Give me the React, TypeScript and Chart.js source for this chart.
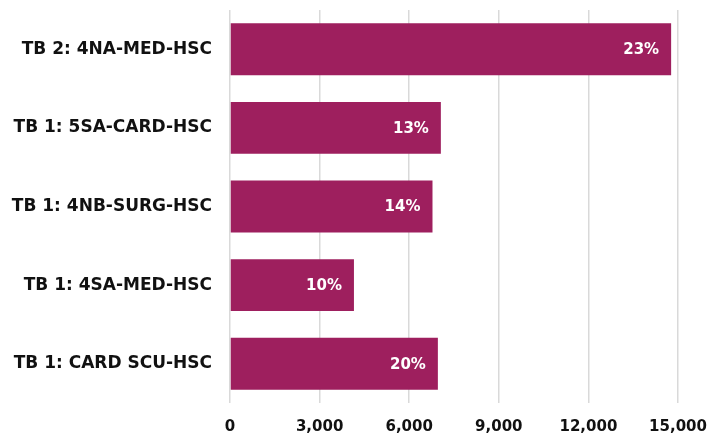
import React, { useEffect, useRef } from "react";
import { Chart, registerables } from "chart.js";

Chart.register(...registerables);

const categories = [
  "TB 2: 4NA-MED-HSC",
  "TB 1: 5SA-CARD-HSC",
  "TB 1: 4NB-SURG-HSC",
  "TB 1: 4SA-MED-HSC",
  "TB 1: CARD SCU-HSC",
];
const values = [14770, 7060, 6780, 4150, 6960];
const percentLabels = ["23%", "13%", "14%", "10%", "20%"];
const xTicks = [0, 3000, 6000, 9000, 12000, 15000];

const FONT = "'DejaVu Sans', sans-serif";

const barLabelPlugin = {
  id: "barLabels",
  afterDatasetsDraw(chart: any) {
    const ctx = chart.ctx;
    const meta = chart.getDatasetMeta(0);
    ctx.save();
    ctx.fillStyle = "#ffffff";
    ctx.font = `bold 15px ${FONT}`;
    ctx.textAlign = "right";
    ctx.textBaseline = "middle";
    meta.data.forEach((bar: any, i: number) => {
      ctx.fillText(percentLabels[i], bar.x - 12, bar.y + 1);
    });
    ctx.restore();
  },
};

export default function App() {
  const ref = useRef<HTMLCanvasElement>(null);
  useEffect(() => {
    document.body.style.margin = "0";
    if (!ref.current) return;
    const chart = new Chart(ref.current, {
      type: "bar",
      data: {
        labels: categories,
        datasets: [
          {
            data: values,
            backgroundColor: "#9E1F5E",
            borderWidth: 0,
            barPercentage: 0.66,
            categoryPercentage: 1,
          },
        ],
      },
      options: {
        indexAxis: "y",
        animation: false,
        responsive: false,
        maintainAspectRatio: false,
        layout: { padding: { top: 10, right: 46, bottom: 0, left: 0 } },
        plugins: { legend: { display: false }, tooltip: { enabled: false } },
        scales: {
          x: {
            min: 0,
            max: 15000,
            afterBuildTicks: (scale: any) => {
              scale.ticks = xTicks.map((v) => ({ value: v }));
            },
            afterFit: (scale: any) => {
              scale.height = 34;
              scale.paddingTop = 0;
              scale.paddingBottom = 0;
            },
            grid: { color: "#d9d9d9", lineWidth: 1.5, drawTicks: false },
            border: { display: false },
            ticks: {
              padding: 15,
              color: "#111111",
              font: { family: FONT, weight: "bold", size: 15 },
              callback: (v: any) => Number(v).toLocaleString("en-US"),
            },
          },
          y: {
            grid: { display: false, drawTicks: false },
            border: { display: false },
            afterFit: (scale: any) => {
              scale.width = 230;
              scale.paddingTop = 0;
              scale.paddingBottom = 0;
            },
            ticks: {
              padding: 18,
              color: "#111111",
              font: { family: FONT, weight: "bold", size: 17 },
            },
          },
        },
      },
      plugins: [barLabelPlugin],
    });
    return () => chart.destroy();
  }, []);
  return (
    <div style={{ width: 724, height: 437 }}>
      <canvas ref={ref} width={724} height={437} style={{ display: "block" }} />
    </div>
  );
}
